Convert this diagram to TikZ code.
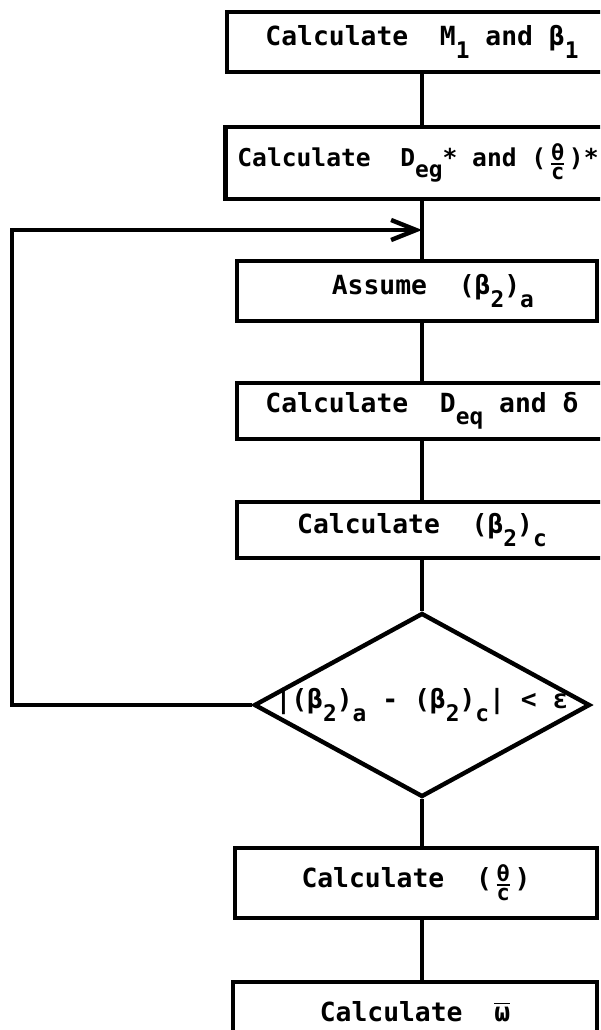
\documentclass[tikz,border=0pt]{standalone}
\usepackage{amsmath}
\usepackage{fontspec}
\usepackage{tikz}
\usetikzlibrary{shapes.geometric, arrows.meta, positioning, calc}
\newfontfamily\plotfont{DejaVu Sans Mono}
\newcommand{\lo}[1]{\raisebox{-0.85ex}{\fontsize{13}{13}\selectfont #1}}
\newcommand{\frc}[2]{\kern1.5pt\raisebox{-0.3ex}{$\genfrac{}{}{1.2pt}{}{\mbox{\fontsize{12.5}{12.5}\selectfont #1}}{\mbox{\fontsize{12.5}{12.5}\selectfont #2}}$}\kern1.5pt}

\begin{document}
\begin{tikzpicture}[
    x=0.02cm, y=-0.02cm,
    box/.style={rectangle, draw, line width=2.5pt, minimum width=7.4cm,
                minimum height=1.2cm, inner sep=0pt,
                font=\plotfont\bfseries\fontsize{15}{17}\selectfont},
    test/.style={diamond, draw, line width=2.5pt, inner sep=0pt,
                 font=\plotfont\bfseries\fontsize{15}{17}\selectfont},
    line/.style={line width=2.5pt},
    arrow/.style={line, -{Straight Barb[length=5mm, width=4mm]}}
]
    \useasboundingbox (0,0) rectangle (600,1030);
    \clip (0,0) rectangle (600,1030);
    \fill[white] (0,0) rectangle (600,1030);

    % Nodes
    \node[box, minimum width=7.8cm] (calcm) at (422,42) {Calculate~~M\lo{1} and β\lo{1}};
    \node[box, minimum width=7.7cm, minimum height=1.44cm,
          font=\plotfont\bfseries\fontsize{14}{16}\selectfont] (calcd) at (418,163) {Calculate~~D\lo{eg}* and (\frc{θ}{c})*};
    \node[box, minimum width=7.2cm] (assume) at (417,291) {~~Assume~~(β\lo{2})\lo{a}};
    \node[box, minimum height=1.12cm] (calcdeq) at (422,411) {Calculate~~D\lo{eq} and δ};
    \node[box, minimum height=1.12cm] (calcb) at (422,530) {Calculate~~(β\lo{2})\lo{c}};
    \node[test, minimum width=6.72cm, minimum height=3.68cm] (conv) at (422,705) {\makebox[0pt]{|(β\lo{2})\lo{a} - (β\lo{2})\lo{c}| < ε}};
    \node[box, minimum width=7.24cm, minimum height=1.4cm] (calct) at (416,883) {Calculate~~(\frc{θ}{c})};
    \node[box, minimum width=7.28cm] (calcw) at (415,1012) {Calculate~~$\overline{\mbox{ω}}$};

    \coordinate (join) at (422,230);
    \coordinate (corner) at (12,230);

    % Arrows
    \draw[line] (calcm) -- (calcm |- calcd.north);
    \draw[line] (calcm |- calcd.south) -- (join) -- (join |- assume.north);
    \draw[line] (join |- assume.south) -- (calcdeq.north);
    \draw[line] (calcdeq) -- (calcb);
    \draw[line] (calcb) -- (conv);
    \draw[line] (conv.south) -- (conv.south |- calct.north);
    \draw[line] (conv.south |- calct.south) -- (conv.south |- calcw.north);

    % Loop back
    \draw[arrow] (conv.west) -| (corner) -- (join);
\end{tikzpicture}
\end{document}
